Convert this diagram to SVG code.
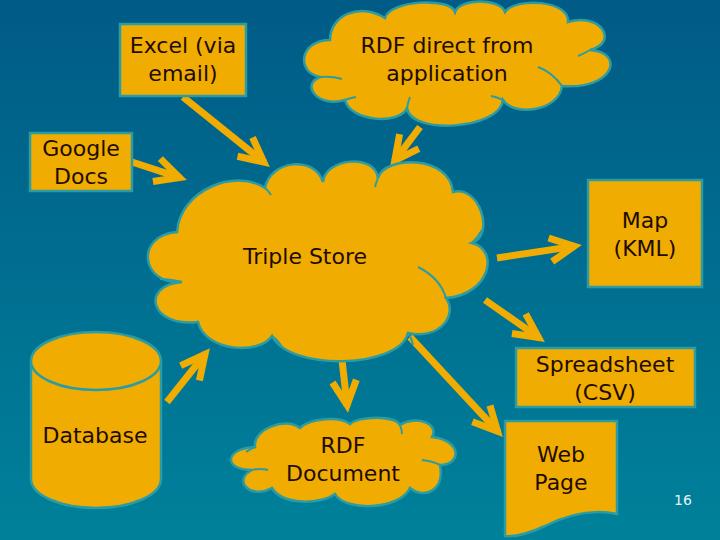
<svg xmlns="http://www.w3.org/2000/svg" width="720" height="540" viewBox="0 0 720 540">
  <defs>
    <linearGradient id="bg" x1="0" y1="0" x2="0" y2="1">
      <stop offset="0" stop-color="#005b86"/>
      <stop offset="1" stop-color="#00819a"/>
    </linearGradient>
    <marker id="chev" markerUnits="userSpaceOnUse" markerWidth="40" markerHeight="40" refX="25" refY="0" orient="auto" overflow="visible">
      <path d="M0,-12 L24,0 L0,12" fill="none" stroke="#f0ac00" stroke-width="7" stroke-linejoin="miter"/>
    </marker>
    <style>
      .shape { fill: #f0ac00; stroke: #2b9ca4; stroke-width: 2.5; }
      .inner { fill: none; stroke: #2b9ca4; stroke-width: 2; }
      .lbl { font-family: "DejaVu Sans", "Liberation Sans", sans-serif; font-size: 22px; fill: #1e0c00; text-anchor: middle; }
      .conn { stroke: #f0ac00; stroke-width: 7; fill: none; marker-end: url(#chev); }
      .pg { font-family: "DejaVu Sans", "Liberation Sans", sans-serif; font-size: 14px; fill: #e6f2f2; text-anchor: middle; }
    </style>
  </defs>

  <rect x="0" y="0" width="720" height="540" fill="url(#bg)"/>

  <g id="connectors">
    <line class="conn" x1="183" y1="97" x2="264.5" y2="162.6"/>
    <line class="conn" x1="132" y1="162" x2="180.4" y2="177.8"/>
    <line class="conn" x1="420" y1="127" x2="394.2" y2="161.4"/>
    <line class="conn" x1="167" y1="402" x2="205.6" y2="353.5"/>
    <line class="conn" x1="497" y1="258" x2="575.1" y2="246.1"/>
    <line class="conn" x1="485" y1="300" x2="539.3" y2="338"/>
    <line class="conn" x1="410" y1="337" x2="498.2" y2="431.9"/>
    <line class="conn" x1="342" y1="360" x2="347.2" y2="406"/>
  </g>

  <g id="excel">
    <rect class="shape" x="120" y="24" width="126" height="72"/>
    <text class="lbl" x="183" y="53">Excel (via</text>
    <text class="lbl" x="183" y="81">email)</text>
  </g>

  <g id="google-docs">
    <rect class="shape" x="30" y="133" width="102" height="58"/>
    <text class="lbl" x="81" y="156">Google</text>
    <text class="lbl" x="81" y="184">Docs</text>
  </g>

  <g id="rdf-direct">
    <path class="shape" d="M330,40 C330,15 360,2 385,18 C390,0 450,-3 455,12 C460,-2 500,-2 505,12 C515,-3 570,0 568,22 C600,12 620,42 590,50 C625,52 615,90 562,86 C560,110 515,118 503,100 C500,130 410,135 407,108 C400,125 350,122 345,100 C318,108 300,85 320,77 C295,72 300,40 330,40 Z"/>
    <path class="inner" d="M320,77 Q332,76 342,79"/>
    <path class="inner" d="M590,50 Q583,54 578,56"/>
    <path class="inner" d="M538,67 Q552,72 562,86"/>
    <path class="inner" d="M503,100 Q497,97 491,96"/>
    <path class="inner" d="M407,108 Q408,102 410,97"/>
    <path class="inner" d="M345,100 Q350,98 356,97"/>
    <text class="lbl" x="447" y="53">RDF direct from</text>
    <text class="lbl" x="447" y="81">application</text>
  </g>

  <g id="triple-store">
    <path class="shape" d="M177,232 C180,190 235,168 265,188 C270,160 315,155 323,182 C325,158 375,153 378,178 C385,155 450,155 453,192 C480,185 495,235 472,243 C500,250 490,295 446,298 C458,315 440,340 408,333 C400,368 290,372 272,336 C260,355 205,352 198,322 C150,328 140,285 182,282 C140,285 135,235 177,232 Z"/>
    <path class="inner" d="M418,267 Q440,278 446,298"/>
    <path class="inner" d="M182,282 Q170,279 160,279"/>
    <path class="inner" d="M265,188 Q268,190 271,195"/>
    <path class="inner" d="M472,243 Q478,237 482,230"/>
    <path class="inner" d="M408,333 Q412,339 413,345"/>
    <path class="inner" d="M272,336 Q278,340 282,347"/>
    <path class="inner" d="M378,178 Q376,183 375,187"/>
    <text class="lbl" x="305" y="264">Triple Store</text>
  </g>

  <g id="map">
    <rect class="shape" x="588" y="180" width="114" height="107"/>
    <text class="lbl" x="645" y="228">Map</text>
    <text class="lbl" x="645" y="256">(KML)</text>
  </g>

  <g id="spreadsheet">
    <rect class="shape" x="516" y="348" width="179" height="59"/>
    <text class="lbl" x="605" y="372">Spreadsheet</text>
    <text class="lbl" x="605" y="400">(CSV)</text>
  </g>

  <g id="database">
    <path class="shape" d="M31,361 L31,479 A65,29 0 0 0 161,479 L161,361 Z"/>
    <ellipse class="shape" cx="96" cy="361" rx="65" ry="29"/>
    <text class="lbl" x="95" y="443">Database</text>
  </g>

  <g id="rdf-document">
    <path class="shape" d="M255,447 C252,430 285,416 300,428 C310,418 340,416 350,424 C358,416 395,415 400,425 C415,415 440,423 432,437 C462,440 462,465 440,465 C445,490 425,500 410,488 C400,510 345,512 335,494 C320,505 282,505 272,488 C250,500 232,480 252,470 C222,470 225,448 255,447 Z"/>
    <path class="inner" d="M422,460 Q432,461 440,465"/>
    <path class="inner" d="M252,470 Q260,468 268,470"/>
    <path class="inner" d="M400,425 Q402,430 402,434"/>
    <path class="inner" d="M255,447 Q250,449 246,452"/>
    <text class="lbl" x="343" y="453">RDF</text>
    <text class="lbl" x="343" y="481">Document</text>
  </g>

  <g id="web-page">
    <path class="shape" d="M505,421 H617 V514 C590,508 565,516 545,526 C528,534 515,537 505,536 Z"/>
    <text class="lbl" x="561" y="462">Web</text>
    <text class="lbl" x="561" y="490">Page</text>
  </g>

  <text class="pg" x="683" y="505">16</text>
</svg>
